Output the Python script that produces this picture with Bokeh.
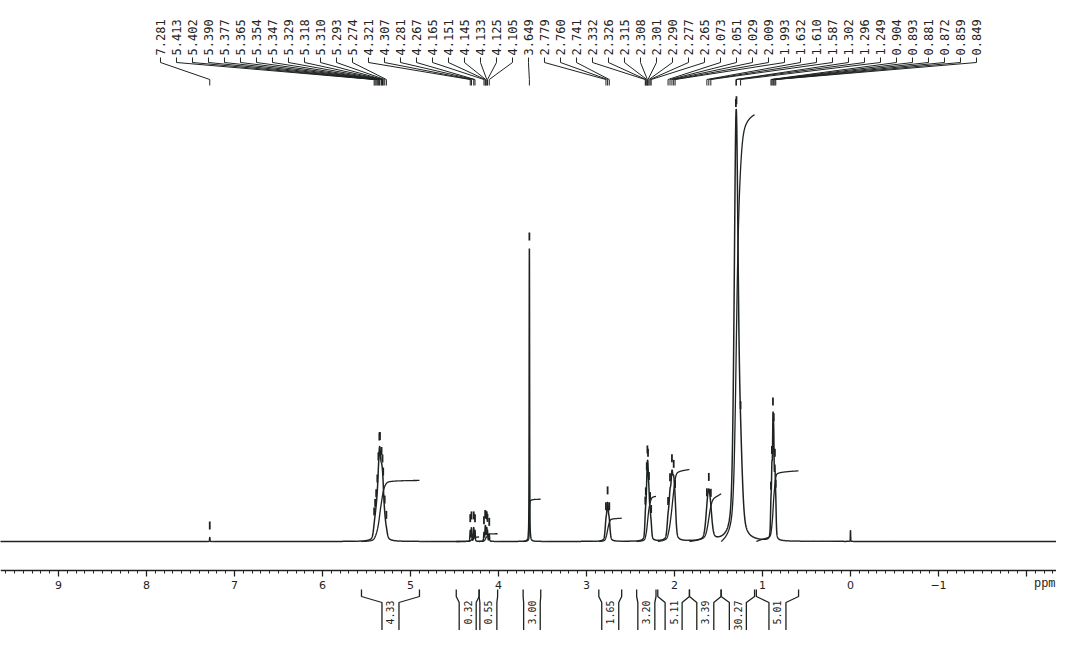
import numpy as np
from bokeh.plotting import figure
from bokeh.models import Range1d, LinearAxis, FixedTicker
from bokeh.core.properties import value
from bokeh.embed import file_html
from bokeh.resources import INLINE

# ---------------- data ----------------
# picked peaks (ppm) as printed at the top
peak_labels = ["7.281", "5.413", "5.402", "5.390", "5.377", "5.365", "5.354", "5.347",
               "5.329", "5.318", "5.310", "5.293", "5.274", "4.321", "4.307", "4.281",
               "4.267", "4.165", "4.151", "4.145", "4.133", "4.125", "4.105", "3.649",
               "2.779", "2.760", "2.741", "2.332", "2.326", "2.315", "2.308", "2.301",
               "2.290", "2.277", "2.265", "2.073", "2.051", "2.029", "2.009", "1.993",
               "1.632", "1.610", "1.587", "1.302", "1.296", "1.249", "0.904", "0.893",
               "0.881", "0.872", "0.859", "0.849"]

mult_shifts = [
    [7.281],
    [5.413, 5.402, 5.390, 5.377, 5.365, 5.354, 5.347, 5.329, 5.318, 5.310, 5.293, 5.274],
    [4.321, 4.307, 4.281, 4.267],
    [4.165, 4.151, 4.145, 4.133, 4.125, 4.105],
    [3.649],
    [2.779, 2.760, 2.741],
    [2.332, 2.326, 2.315, 2.308, 2.301, 2.290, 2.277, 2.265],
    [2.073, 2.051, 2.029, 2.009, 1.993],
    [1.632, 1.610, 1.587],
    [1.302, 1.296, 1.249],
    [0.904, 0.893, 0.881, 0.872, 0.859, 0.849],
    [0.000],
]
mult_rel = [
    [1.0],
    [0.15, 0.2, 0.3, 0.4, 0.55, 0.8, 1.0, 0.85, 0.6, 0.45, 0.3, 0.15],
    [0.8, 1.0, 1.0, 0.8],
    [0.7, 1.0, 0.9, 1.0, 0.8, 0.6],
    [1.0],
    [0.5, 1.0, 0.5],
    [0.3, 0.4, 0.7, 0.9, 1.0, 0.8, 0.5, 0.3],
    [0.35, 0.7, 1.0, 0.8, 0.5],
    [0.5, 1.0, 0.5],
    [1.0, 1.0, 0.3],
    [0.3, 0.6, 1.0, 0.8, 0.6, 0.3],
    [1.0],
]
mult_hwhm = [0.003, 0.014, 0.004, 0.004, 0.003, 0.011, 0.008, 0.013, 0.021, 0.026, 0.006, 0.002]
mult_height = [4, 95, 14, 16, 293, 39, 81, 71, 51, 432, 129, 11]

# integrals: region limits (ppm) and values
integ_hi = [5.557, 4.48, 4.22, 3.72, 2.86, 2.43, 2.19, 1.83, 1.47, 1.07]
integ_lo = [4.898, 4.22, 4.01, 3.52, 2.60, 2.21, 1.83, 1.47, 1.09, 0.59]
integ_val = ["4.33", "0.32", "0.55", "3.00", "1.65", "3.20", "5.11", "3.39", "30.27", "5.01"]

axis_ticks = [9, 8, 7, 6, 5, 4, 3, 2, 1, 0, -1, -2]

# ---------------- build the spectrum (pseudo-Voigt lines) ----------------
all_shifts = [s for grp in mult_shifts for s in grp]
x = np.union1d(np.linspace(-2.4, 9.7, 24000), np.array(all_shifts))[::-1]
spec = np.zeros_like(x)
ETA = 0.45
for shifts, rel, w, h in zip(mult_shifts, mult_rel, mult_hwhm, mult_height):
    part = np.zeros_like(x)
    for s, r in zip(shifts, rel):
        d = (x - s) / w
        part += r * (ETA / (1.0 + d ** 2) + (1 - ETA) * np.exp(-np.log(2) * d ** 2))
    spec += part * (h / part.max())

INT_SCALE = 14.1  # integral curve height per proton unit

# ---------------- figure ----------------
p = figure(width=1056, height=630, output_backend="svg", toolbar_location=None,
           x_range=Range1d(9.659, -2.341), y_range=Range1d(-89, 541),
           x_axis_type=None, y_axis_type=None, min_border=0)
p.outline_line_color = None
p.xgrid.visible = False
p.ygrid.visible = False
p.background_fill_color = "white"

ink = "#1e2320"

p.line(x, spec, line_color=ink, line_width=1.5)

# integral curves
for hi, lo, val in zip(integ_hi, integ_lo, integ_val):
    m = (x <= hi) & (x >= lo)
    xs = x[m]
    ys = spec[m]
    cum = np.concatenate([[0.0], np.cumsum(0.5 * (ys[1:] + ys[:-1]) * np.abs(np.diff(xs)))])
    cum = cum / cum[-1] * float(val) * INT_SCALE
    p.line(xs, cum, line_color=ink, line_width=1.3)

# peak-pick markers above the spectrum
pick_ppm = [float(t) for t in peak_labels]
pick_y = np.interp(pick_ppm[::-1], x[::-1], spec[::-1])[::-1]
p.segment(x0=pick_ppm, y0=pick_y + 8, x1=pick_ppm, y1=pick_y + 16,
          line_color=ink, line_width=1.8)

# peak labels with connector lines
n = len(peak_labels)
px_per_ppm = 88.0
lab_x = np.linspace(7.841, 7.841 - 16.0 * (n - 1) / px_per_ppm, n)
conn_x = [[lx, lx, pp, pp] for lx, pp in zip(lab_x, pick_ppm)]
conn_y = [[484, 479, 462, 456] for _ in range(n)]
p.multi_line(conn_x, conn_y, line_color=ink, line_width=1.0)
p.text(x=lab_x, y=[486] * n, text=peak_labels, angle=np.pi / 2,
       text_align="left", text_baseline="middle",
       text_font=value("DejaVu Sans Mono"), text_font_size="12px", text_color=ink)

# integral brackets below the axis
off_max = 8.5 / px_per_ppm
bx, by = [], []
mids = []
for hi, lo in zip(integ_hi, integ_lo):
    mid = 0.5 * (hi + lo)
    off = min(off_max, 0.5 * (hi - lo) - 0.5 / px_per_ppm)
    bx.append([hi, hi, mid + off, mid + off])
    by.append([-48, -55, -61, -100])
    bx.append([lo, lo, mid - off, mid - off])
    by.append([-48, -55, -61, -100])
    mids.append(mid)
p.multi_line(bx, by, line_color=ink, line_width=1.3)
p.text(x=mids, y=[-59] * len(mids), text=integ_val, angle=np.pi / 2,
       text_align="right", text_baseline="middle",
       text_font=value("DejaVu Sans Mono"), text_font_size="10px", text_color=ink)

# ppm axis
ax = LinearAxis(fixed_location=-29)
ax.ticker = FixedTicker(ticks=axis_ticks,
                        minor_ticks=[round(v, 1) for v in np.arange(-2.3, 9.61, 0.1)])
ax.major_label_overrides = {-1: "\u22121", -2: ""}
ax.axis_line_color = ink
ax.axis_line_width = 1.3
ax.major_tick_line_color = ink
ax.major_tick_line_width = 1.3
ax.major_tick_out = 6
ax.major_tick_in = 0
ax.minor_tick_line_color = ink
ax.minor_tick_out = 3
ax.minor_tick_in = 0
ax.major_label_text_font = "DejaVu Sans"
ax.major_label_text_font_size = "11px"
ax.major_label_text_color = ink
ax.major_label_standoff = 4
p.add_layout(ax, "below")

p.text(x=[-2.33], y=[-42], text=["ppm"], text_align="right", text_baseline="middle",
       text_font=value("Liberation Mono"), text_font_size="12px", text_color=ink)

open("out.html", "w").write(file_html(p, INLINE))
